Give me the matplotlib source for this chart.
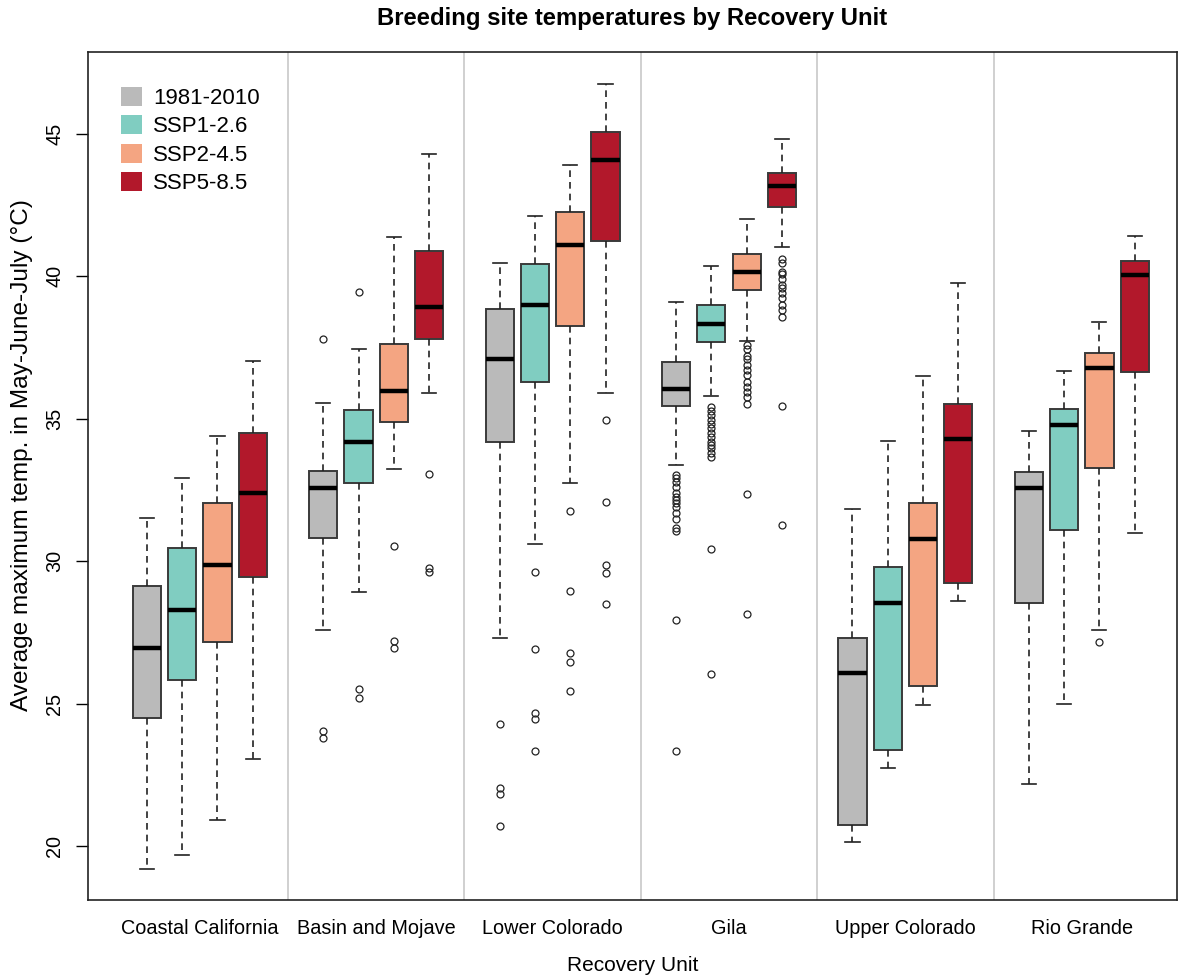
import matplotlib
matplotlib.use("Agg")
import matplotlib.pyplot as plt
from matplotlib.patches import Patch

plt.rcParams['font.family'] = ['Liberation Sans', 'DejaVu Sans']

units = ["Coastal California", "Basin and Mojave", "Lower Colorado",
         "Gila", "Upper Colorado", "Rio Grande"]
scenarios = ["1981-2010", "SSP1-2.6", "SSP2-4.5", "SSP5-8.5"]
colors = ["#bababa", "#80cdc1", "#f4a582", "#b2182b"]

# per unit: one value for each scenario
whis_lo = [
    [19.18, 19.68, 20.91, 23.06],
    [27.58, 28.91, 33.24, 35.92],
    [27.30, 30.61, 32.76, 35.92],
    [33.38, 35.79, 37.72, 41.02],
    [20.12, 22.75, 24.95, 28.60],
    [22.17, 24.99, 27.58, 30.98],
]
q1 = [
    [24.49, 25.84, 27.17, 29.45],
    [30.83, 32.75, 34.89, 37.79],
    [34.19, 36.28, 38.25, 41.23],
    [35.44, 37.70, 39.53, 42.42],
    [20.74, 23.37, 25.62, 29.22],
    [28.52, 31.11, 33.28, 36.64],
]
medians = [
    [26.95, 28.29, 29.85, 32.40],
    [32.57, 34.18, 35.97, 38.93],
    [37.09, 39.00, 41.10, 44.09],
    [36.06, 38.33, 40.15, 43.16],
    [26.06, 28.52, 30.79, 34.28],
    [32.58, 34.77, 36.78, 40.05],
]
q3 = [
    [29.12, 30.47, 32.04, 34.50],
    [33.16, 35.30, 37.61, 40.88],
    [38.87, 40.43, 42.26, 45.08],
    [36.99, 39.00, 40.78, 43.64],
    [27.30, 29.81, 32.04, 35.53],
    [33.12, 35.34, 37.31, 40.54],
]
whis_hi = [
    [31.51, 32.92, 34.40, 37.02],
    [35.56, 37.44, 41.40, 44.30],
    [40.48, 42.13, 43.91, 46.77],
    [39.09, 40.35, 42.03, 44.81],
    [31.82, 34.23, 36.51, 39.78],
    [34.58, 36.69, 38.39, 41.43],
]
outliers = [
    [[], [], [], []],
    [[37.80, 24.05, 23.80], [39.45, 25.50, 25.20],
     [30.52, 27.20, 26.95], [33.07, 29.77, 29.63]],
    [[24.28, 22.02, 21.82, 20.70], [29.63, 26.90, 24.65, 24.46, 23.33],
     [31.77, 28.96, 26.76, 26.47, 25.44], [34.95, 32.08, 29.88, 29.60, 28.51]],
    [[33.03, 32.92, 32.78, 32.61, 32.39, 32.25, 32.15, 32.04, 31.90, 31.69,
      31.48, 31.17, 31.06, 27.93, 23.33],
     [35.40, 35.29, 35.13, 34.96, 34.82, 34.67, 34.49, 34.35, 34.20, 34.08,
      33.96, 33.81, 33.65, 30.43, 26.05],
     [37.58, 37.44, 37.21, 37.09, 36.89, 36.71, 36.54, 36.30, 36.13, 35.95,
      35.78, 35.51, 32.35, 28.15],
     [40.60, 40.46, 40.17, 40.08, 39.90, 39.70, 39.58, 39.41, 39.23, 39.00,
      38.82, 38.59, 35.44, 31.28]],
    [[], [], [], []],
    [[], [], [27.17], []],
]

stats = []
positions = []
box_colors = []
for g in range(len(units)):
    for s in range(len(scenarios)):
        stats.append(dict(med=medians[g][s], q1=q1[g][s], q3=q3[g][s],
                          whislo=whis_lo[g][s], whishi=whis_hi[g][s],
                          fliers=outliers[g][s]))
        positions.append(5 * g + s + 1)
        box_colors.append(colors[s])

fig = plt.figure(figsize=(11.93, 9.8), dpi=100)
ax = fig.add_axes([88 / 1193, 1 - 900 / 980, 1089 / 1193, 848 / 980])

# light separators between recovery units
for g in range(1, len(units)):
    ax.axvline(5 * g, color="#c8c8c8", lw=1.2, zorder=0)

bp = ax.bxp(stats, positions=positions, widths=0.8, capwidths=0.4,
            patch_artist=True, showfliers=True,
            boxprops=dict(edgecolor="#3a3a3a", linewidth=1.4),
            medianprops=dict(color="black", linewidth=3.2, solid_capstyle="butt"),
            whiskerprops=dict(color="#222222", linewidth=1.2, linestyle=(0, (4, 3))),
            capprops=dict(color="#222222", linewidth=1.2),
            flierprops=dict(marker="o", markersize=5, markerfacecolor="none",
                            markeredgecolor="#222222", markeredgewidth=0.9))
for patch, c in zip(bp["boxes"], box_colors):
    patch.set_facecolor(c)

ax.set_xlim(-0.67, 30.2)
ax.set_ylim(18.10, 47.88)

ax.set_xticks([5 * g + 2.5 for g in range(len(units))])
ax.set_xticklabels(units, fontsize=14.3)
ax.tick_params(axis="x", length=0, pad=14)

ax.set_yticks([20, 25, 30, 35, 40, 45])
ax.tick_params(axis="y", length=9, width=1, labelsize=14.3, pad=8)
for lab in ax.get_yticklabels():
    lab.set_rotation(90)
    lab.set_va("center")

for sp in ax.spines.values():
    sp.set_linewidth(1.2)
    sp.set_color("#222222")

handles = [Patch(facecolor=c, edgecolor="none", label=l)
           for c, l in zip(colors, scenarios)]
ax.legend(handles=handles, loc="upper left", bbox_to_anchor=(0.0303, 0.959),
          frameon=False, fontsize=16, handlelength=0.95, handleheight=0.95,
          handletextpad=0.5, labelspacing=0.28, borderpad=0, borderaxespad=0)

fig.text(632.5 / 1193, 1 - 18 / 980, "Breeding site temperatures by Recovery Unit",
         ha="center", va="center", fontsize=17.2, fontweight="bold")
fig.text(632.5 / 1193, 1 - 965 / 980, "Recovery Unit",
         ha="center", va="center", fontsize=15)
fig.text(22 / 1193, 1 - 455 / 980, "Average maximum temp. in May-June-July (\u00b0C)",
         ha="center", va="center", rotation=90, fontsize=17.6)

fig.savefig("out.png", dpi=100)
